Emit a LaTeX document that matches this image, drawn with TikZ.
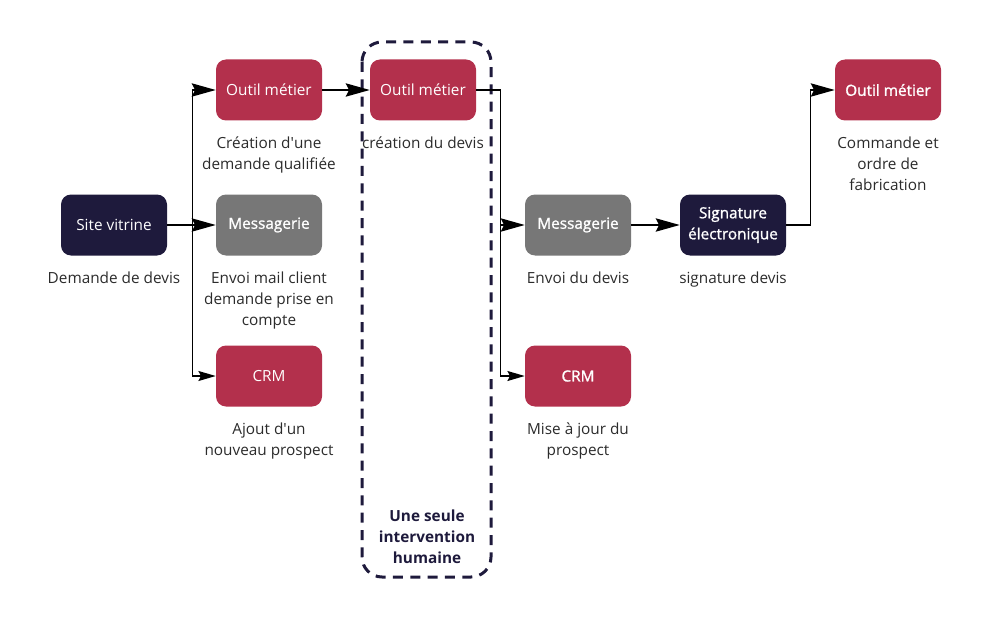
\documentclass[tikz,border=0pt]{standalone}
\usepackage{fontspec}
\setmainfont{Open Sans}
\newfontfamily\semibold{Open Sans}[FakeBold=1.2]
\usetikzlibrary{positioning,arrows.meta}

\definecolor{rouge}{HTML}{B3304C}
\definecolor{marine}{HTML}{1E1A3C}
\definecolor{grisboite}{HTML}{777777}
\definecolor{texte}{HTML}{2B2B2B}

\tikzset{
  boite/.style={rounded corners=7.5pt, minimum width=79.5pt, minimum height=45.75pt,
    inner sep=2pt, text=white, align=center, font=\fontsize{11.5}{15.75}\selectfont},
  outil/.style={boite, fill=rouge},
  courrier/.style={boite, fill=grisboite, font=\fontsize{11.5}{15.75}\selectfont\semibold},
  site/.style={boite, fill=marine},
  legende/.style={inner sep=0pt, align=center, text=texte, font=\fontsize{11.5}{15.75}\selectfont},
  fleche/.style={line width=1.1pt, -{Stealth[length=18pt, width=10pt, inset=2.5pt]}},
  flechepetite/.style={line width=1.1pt, -{Stealth[length=13pt, width=7.5pt, inset=2pt]}},
}

\begin{document}
\begin{tikzpicture}[x=0.75pt, y=-0.75pt]
\useasboundingbox (0,0) rectangle (988,624);

% Zone d'intervention humaine (pointillés)
\draw[marine, line width=2.25pt, dash pattern=on 7.5pt off 5.5pt, rounded corners=15pt]
  (362,42) rectangle (491,577);
\node[legende, text=marine, font=\fontsize{11.5}{15.75}\selectfont\bfseries] (humaine) at (427,537)
  {Une seule\\intervention\\humaine};

% Boites
\node[site] (sv) at (114,225) {Site vitrine};
\node[outil] (outil1) at (269,90) {Outil métier};
\node[courrier] (msg1) at (269,225) {Messagerie};
\node[outil] (crm1) at (269,376) {CRM};
\node[outil] (outil2) at (423,90) {Outil métier};
\node[courrier] (msg2) at (578,225) {Messagerie};
\node[outil, font=\fontsize{11.5}{15.75}\selectfont\semibold] (crm2) at (578,376) {CRM};
\node[site, font=\fontsize{11.5}{15.75}\selectfont\semibold] (sig) at (733,225) {Signature\\électronique};
\node[outil, font=\fontsize{11.5}{15.75}\selectfont\semibold] (outil3) at (888,90) {Outil métier};

% Legendes sous les boites
\node[legende, below=12pt of sv] (sv-l) {Demande de devis};
\node[legende, below=12pt of outil1] (outil1-l) {Création d\textquotesingle une\\demande qualifiée};
\node[legende, below=12pt of msg1] (msg1-l) {Envoi mail client\\demande prise en\\compte};
\node[legende, below=12pt of crm1] (crm1-l) {Ajout d\textquotesingle un\\nouveau prospect};
\node[legende, below=12pt of outil2] (outil2-l) {création du devis};
\node[legende, below=12pt of msg2] (msg2-l) {Envoi du devis};
\node[legende, below=12pt of crm2] (crm2-l) {Mise à jour du\\prospect};
\node[legende, below=12pt of sig] (sig-l) {signature devis};
\node[legende, below=12pt of outil3] (outil3-l) {Commande et\\ordre de\\fabrication};

% Connecteurs
\draw[fleche] (sv.east) -- ++(25,0) |- (outil1.west);
\draw[fleche] (sv.east) -- (msg1.west);
\draw[flechepetite] (sv.east) -- ++(25,0) |- (crm1.west);
\draw[fleche] (outil1.east) -- (outil2.west);
\draw[fleche] (outil2.east) -- ++(24,0) |- (msg2.west);
\draw[flechepetite] (outil2.east) -- ++(24,0) |- (crm2.west);
\draw[fleche] (msg2.east) -- (sig.west);
\draw[fleche] (sig.east) -- ++(24,0) |- (outil3.west);

\end{tikzpicture}
\end{document}
